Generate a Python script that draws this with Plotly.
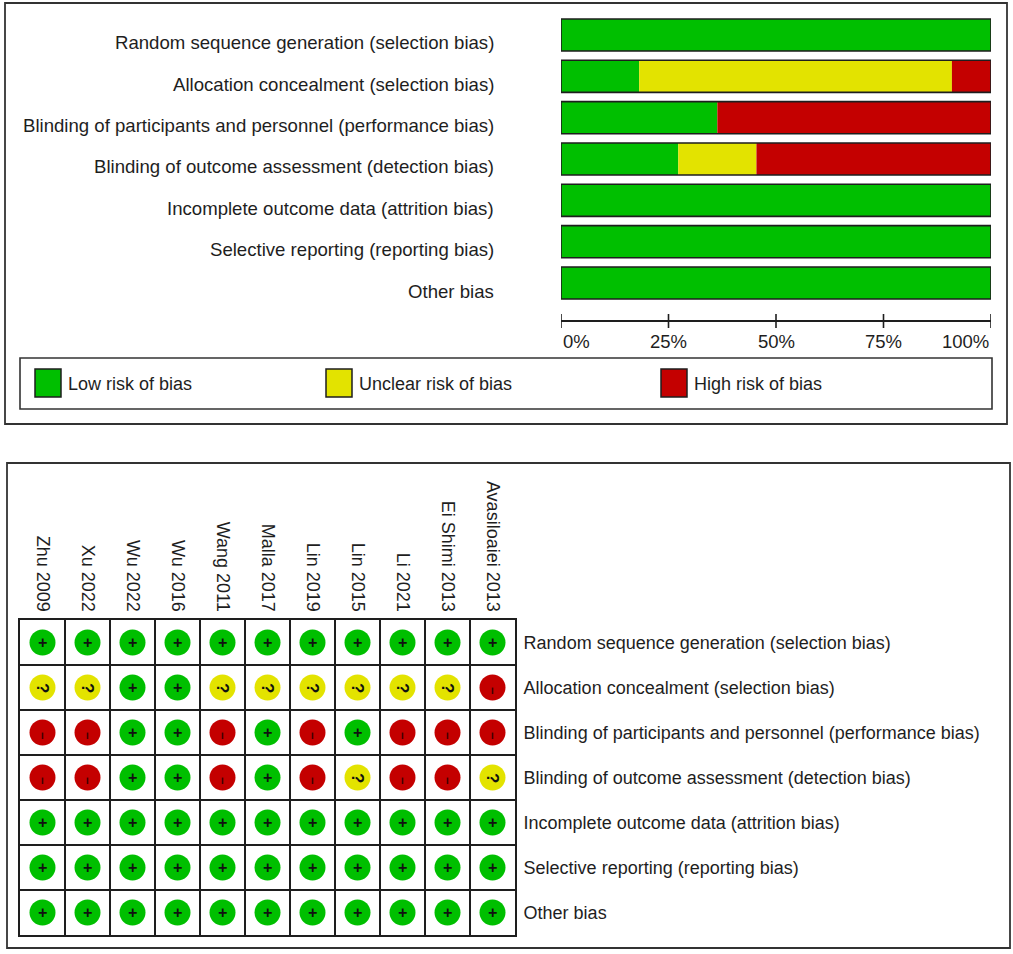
import plotly.graph_objects as go

# ---- data ----
STUDIES = ["Zhu 2009", "Xu 2022", "Wu 2022", "Wu 2016", "Wang 2011", "Malla 2017",
           "Lin 2019", "Lin 2015", "Li 2021", "Ei Shimi 2013", "Avasiloaiei 2013"]

DOMAINS = [
    "Random sequence generation (selection bias)",
    "Allocation concealment (selection bias)",
    "Blinding of participants and personnel (performance bias)",
    "Blinding of outcome assessment (detection bias)",
    "Incomplete outcome data (attrition bias)",
    "Selective reporting (reporting bias)",
    "Other bias",
]

# judgement per domain, one entry per study ("+" low, "?" unclear, "-" high)
random_seq = ["+", "+", "+", "+", "+", "+", "+", "+", "+", "+", "+"]
allocation = ["?", "?", "+", "+", "?", "?", "?", "?", "?", "?", "-"]
blind_part = ["-", "-", "+", "+", "-", "+", "-", "+", "-", "-", "-"]
blind_outc = ["-", "-", "+", "+", "-", "+", "-", "?", "-", "-", "?"]
incomplete = ["+", "+", "+", "+", "+", "+", "+", "+", "+", "+", "+"]
selective = ["+", "+", "+", "+", "+", "+", "+", "+", "+", "+", "+"]
other_bias = ["+", "+", "+", "+", "+", "+", "+", "+", "+", "+", "+"]
JUDGEMENTS = [random_seq, allocation, blind_part, blind_outc, incomplete, selective, other_bias]

TICKS = [0, 25, 50, 75, 100]
TICK_LABELS = ["0%", "25%", "50%", "75%", "100%"]
LEGEND_LABELS = ["Low risk of bias", "Unclear risk of bias", "High risk of bias"]

GREEN, YELLOW, RED = "#00BF00", "#E3E300", "#C40000"
INK = "#1e1e1e"
FONT = "Liberation Sans, Arial, sans-serif"

W, H = 1013, 954


def px(x):
    return x / W


def py(y):
    return 1 - y / H


# percentages for summary bars
n = len(STUDIES)
low = [100 * j.count("+") / n for j in JUDGEMENTS]
unclear = [100 * j.count("?") / n for j in JUDGEMENTS]
high = [100 * j.count("-") / n for j in JUDGEMENTS]
total = [a + b + c for a, b, c in zip(low, unclear, high)]
base_unc = low
base_high = [a + b for a, b in zip(low, unclear)]
rows = list(range(len(DOMAINS)))

fig = go.Figure()

# 1. summary bars (top)
bw = 0.775
for vals, base, col in [(low, None, GREEN), (unclear, base_unc, YELLOW), (high, base_high, RED)]:
    fig.add_trace(go.Bar(y=rows, x=vals, base=base, orientation="h", width=bw,
                         marker=dict(color=col, line=dict(width=0)),
                         xaxis="x", yaxis="y", hoverinfo="x"))
fig.add_trace(go.Bar(y=rows, x=total, orientation="h", width=bw,
                     marker=dict(color="rgba(0,0,0,0)", line=dict(color=INK, width=1.6)),
                     xaxis="x", yaxis="y", hoverinfo="skip"))

# 2. traffic-light grid (bottom)
sym_color = {"+": GREEN, "?": YELLOW, "-": RED}
for sym in ["+", "?", "-"]:
    xs, ys = [], []
    for r, row in enumerate(JUDGEMENTS):
        for c, j in enumerate(row):
            if j == sym:
                xs.append(c)
                ys.append(r)
    fig.add_trace(go.Scatter(x=xs, y=ys, mode="markers", xaxis="x2", yaxis="y2",
                             marker=dict(size=26, color=sym_color[sym], line=dict(width=0)),
                             hoverinfo="skip"))

annotations = []
for r, row in enumerate(JUDGEMENTS):
    for c, j in enumerate(row):
        if j == "+":
            annotations.append(dict(x=c, y=r, xref="x2", yref="y2", text="<b>+</b>", showarrow=False,
                                    font=dict(size=16, color="#111", family=FONT)))
        elif j == "?":
            annotations.append(dict(x=c, y=r, xref="x2", yref="y2", text="<b>?</b>", showarrow=False,
                                    textangle=90, font=dict(size=17, color="#111", family=FONT)))
        else:
            annotations.append(dict(x=c, y=r, xref="x2", yref="y2", text="<b>−</b>", showarrow=False,
                                    textangle=90, yshift=-3,
                                    font=dict(size=13, color="#3a0000", family=FONT)))

# domain labels of the summary bars (sit a little below the bar centres, as in the source)
for r, lab in zip(rows, DOMAINS):
    annotations.append(dict(x=px(496), y=r, xref="paper", yref="y", text=lab, showarrow=False,
                            xanchor="right", yanchor="middle", yshift=-8,
                            font=dict(size=18.6, color=INK, family=FONT)))

# tick labels of top axis (RevMan style: end labels kept inside)
for t, lab in zip(TICKS, TICK_LABELS):
    anchor = "left" if t == TICKS[0] else ("right" if t == TICKS[-1] else "center")
    annotations.append(dict(x=t, y=py(342), xref="x", yref="paper", text=lab, showarrow=False,
                            xanchor=anchor, yanchor="middle", font=dict(size=18.5, color=INK, family=FONT)))

shapes = []
# crossing tick marks on top axis
for t in TICKS:
    shapes.append(dict(type="line", xref="x", yref="paper", x0=t, x1=t, y0=py(314), y1=py(328),
                       line=dict(color=INK, width=1.6)))

# outer frames
shapes.append(dict(type="rect", xref="paper", yref="paper", x0=px(5), x1=px(1007), y0=py(424), y1=py(3),
                   line=dict(color="#333", width=1.8)))
shapes.append(dict(type="rect", xref="paper", yref="paper", x0=px(7), x1=px(1010), y0=py(948), y1=py(463),
                   line=dict(color="#333", width=1.8)))

# legend box
shapes.append(dict(type="rect", xref="paper", yref="paper", x0=px(20), x1=px(992), y0=py(409), y1=py(358),
                   line=dict(color="#333", width=1.6)))
legend_x = [35, 326, 661]
for lx, lab, col in zip(legend_x, LEGEND_LABELS, [GREEN, YELLOW, RED]):
    shapes.append(dict(type="rect", xref="paper", yref="paper", x0=px(lx), x1=px(lx + 26),
                       y0=py(397), y1=py(369), fillcolor=col, line=dict(color=INK, width=1.5)))
    annotations.append(dict(x=px(lx + 31), y=py(384), xref="paper", yref="paper", text=lab,
                            showarrow=False, xanchor="left", yanchor="middle",
                            font=dict(size=18, color=INK, family=FONT)))

fig.update_layout(
    width=W, height=H,
    margin=dict(l=0, r=0, t=0, b=0),
    paper_bgcolor="white", plot_bgcolor="white",
    barmode="overlay", showlegend=False,
    font=dict(family=FONT, size=18, color=INK),
    xaxis=dict(domain=[px(561), px(991)], range=[0, 100], anchor="free", position=py(321),
               showline=True, linecolor=INK, linewidth=1.6, ticks="", showticklabels=False,
               showgrid=False, zeroline=False, fixedrange=True),
    yaxis=dict(domain=[py(303.7), py(14.3)], range=[6.5, -0.5], anchor="x",
               showline=False, showgrid=False, zeroline=False, ticks="", showticklabels=False),
    xaxis2=dict(domain=[px(20), px(515)], range=[-0.5, 10.5], anchor="y2", side="top",
                tickmode="array", tickvals=list(range(n)), ticktext=STUDIES, tickangle=90,
                ticks="", ticklabelstandoff=0, tickfont=dict(size=18, color=INK),
                showgrid=False, zeroline=False, showline=True, mirror=True, linecolor=INK, linewidth=2,
                minor=dict(tick0=0.5, dtick=1, showgrid=True, gridcolor=INK, gridwidth=2)),
    yaxis2=dict(domain=[py(935), py(620)], range=[6.5, -0.5], anchor="x2", side="right",
                tickmode="array", tickvals=rows, ticktext=DOMAINS,
                ticks="", ticklabelstandoff=3, tickfont=dict(size=18, color=INK),
                showgrid=False, zeroline=False, showline=True, mirror=True, linecolor=INK, linewidth=2,
                minor=dict(tick0=0.5, dtick=1, showgrid=True, gridcolor=INK, gridwidth=2)),
    shapes=shapes,
    annotations=annotations,
)

# page has the browser's default 8px body margin; drop it so the figure fills the window
fig.write_html("out.html", config={"displayModeBar": False},
               post_script="document.body.style.margin='0';")
